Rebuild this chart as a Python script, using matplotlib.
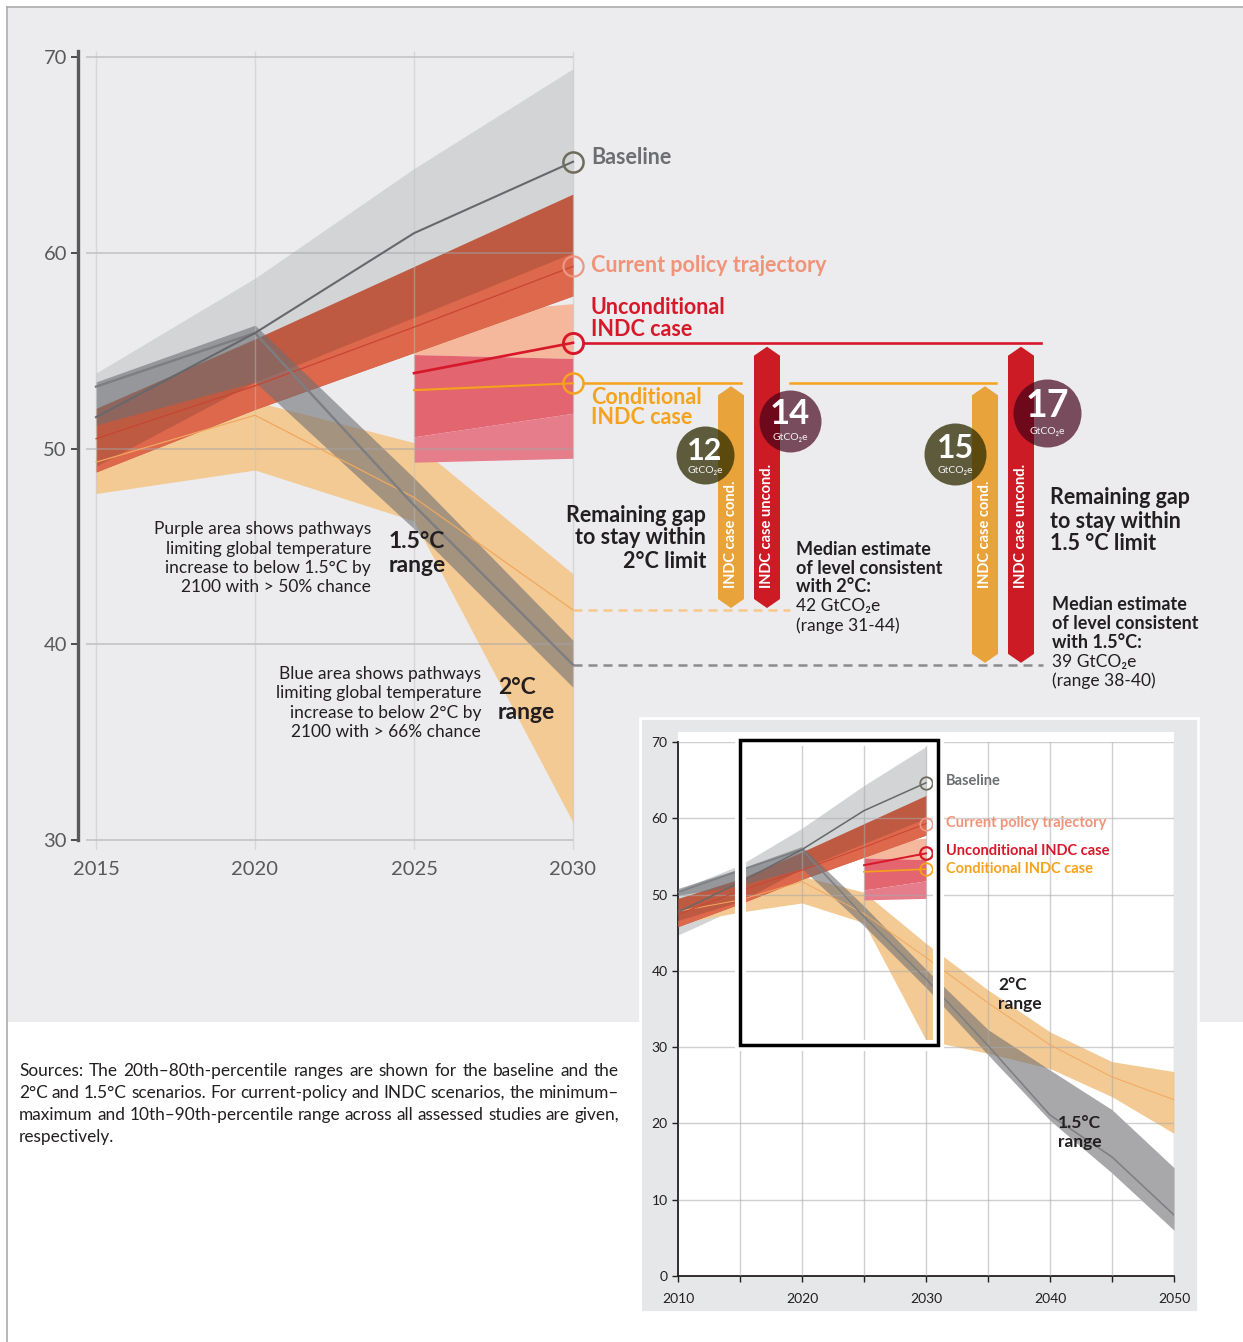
import matplotlib
matplotlib.use('Agg')
import matplotlib.pyplot as plt
from matplotlib.patches import Rectangle
from matplotlib.lines import Line2D

plt.rcParams['font.family'] = ['Lato', 'DejaVu Sans']

# ---------------- data (GtCO2e) ----------------
years = [2010, 2015, 2020, 2025, 2030]
base_lo = [44.7, 48.4, 52.0, 55.5, 58.0]
base_hi = [50.6, 53.85, 58.7, 64.3, 69.4]
base_med = [47.7, 51.6, 55.9, 61.0, 64.65]

cp_lo = [45.8, 48.8, 52.0, 54.9, 57.8]
cp_hi = [49.5, 52.05, 55.6, 59.3, 63.0]
cp_inner_lo = [45.8, 48.8, 52.0, 54.9, 57.8]
cp_inner_hi = [46.6, 49.1, 53.4, 56.7, 60.0]
cp_med = [47.4, 50.5, 53.2, 56.2, 59.3]

indc_years = [2025, 2030]
indc_top = [56.7, 57.4]
indc_mid_hi = [54.8, 54.6]
indc_mid_lo = [50.6, 51.8]
indc_bot = [49.3, 49.5]
uncond_med = [53.85, 55.4]
cond_med = [52.98, 53.33]

path_years = [2010, 2015, 2020, 2025, 2030, 2035, 2040, 2045, 2050]
two_hi = [49.3, 49.6, 52.4, 50.3, 43.6, 37.5, 32.0, 28.1, 26.8]
two_lo = [46.2, 47.7, 48.9, 46.3, 30.9, 29.2, 27.2, 23.5, 18.7]
two_med = [47.8, 49.3, 51.7, 47.5, 41.75, 35.8, 30.3, 26.1, 23.1]
one5_hi = [50.8, 53.4, 56.3, 48.5, 40.2, 32.3, 27.0, 21.8, 14.2]
one5_lo = [49.9, 51.2, 53.4, 45.9, 37.8, 29.0, 20.4, 13.5, 6.0]
one5_med = [50.3, 53.16, 55.9, 47.1, 38.95, 30.2, 21.1, 15.6, 8.0]

gap_labels = ['12', '14', '15', '17']

# ---------------- colours ----------------
C_BASE_BAND = '#D3D4D6'
C_BASE = '#67686B'
C_CP_OUT = '#BE5A41'
C_CP_IN = '#DE684C'
C_CP_LINE = '#C94433'
C_SALMON = '#F5B89C'
C_PINK = '#E26570'
C_PINK_L = '#E57E8A'
C_UNC = '#D7182A'
C_CON = '#F5A21C'
C_TWO = '#F3CA93'
C_TWO_LINE = '#F0A860'
C_ONE5 = '#6E6F73'
C_ONE5_LINE = '#7D7E82'
TXT = '#231F20'
TICK = '#58595B'

W, H = 1243, 1342
fig = plt.figure(figsize=(W / 100, H / 100), dpi=100)
fig.patch.set_facecolor('white')


def fx(px):
    return px / W


def fy(py):
    return 1 - py / H


# panel background and frame
fig.patches.append(Rectangle((fx(8), fy(1022)), (W - 8) / W, (1022 - 8) / H,
                             transform=fig.transFigure, fc='#ECECEE', ec='none', zorder=-2))
fig.add_artist(Line2D([fx(7), fx(7)], [fy(7), 0], color='#A9ABAE', lw=1.2, zorder=-1))
fig.add_artist(Line2D([fx(7), 1], [fy(7), fy(7)], color='#A9ABAE', lw=1.2, zorder=-1))

# ---------------- main chart ----------------
PX0, SX = 96, 31.8      # 2015 at px 96, px per year
PY0, SY = 57, 19.575    # 70 at py 57, px per unit


def dx(px):
    return 2015 + (px - PX0) / SX


def dy(py):
    return 70 - (py - PY0) / SY


ax = fig.add_axes([fx(78), fy(850), (W - 78) / W, 800 / H])
ax.patch.set_alpha(0)
ax.set_xlim(dx(78), dx(W))
ax.set_ylim(dy(850), dy(50))
for s in ['top', 'right', 'bottom']:
    ax.spines[s].set_visible(False)
ax.spines['left'].set_linewidth(2.4)
ax.spines['left'].set_color('#58595B')
ax.spines['left'].set_bounds(30, dy(51))
ax.set_yticks([30, 40, 50, 60, 70])
ax.set_xticks([2015, 2020, 2025, 2030])
ax.tick_params(axis='y', length=5, width=1.1, color=TXT, labelcolor=TICK, labelsize=14.5, pad=3)
ax.tick_params(axis='x', length=0, labelcolor=TICK, labelsize=14.5, pad=8)

y_m = years[1:]
p_m = path_years[1:5]
ax.fill_between(y_m, base_lo[1:], base_hi[1:], color=C_BASE_BAND, lw=0, zorder=1)
ax.fill_between(p_m, two_lo[1:5], two_hi[1:5], color=C_TWO, lw=0, zorder=2)
ax.fill_between(indc_years, indc_mid_hi, indc_top, color=C_SALMON, lw=0, zorder=2.5)
ax.fill_between(y_m, cp_lo[1:], cp_hi[1:], color=C_CP_OUT, lw=0, zorder=3)
ax.fill_between(y_m, cp_inner_lo[1:], cp_inner_hi[1:], color=C_CP_IN, lw=0, zorder=4)
ax.fill_between(indc_years, indc_mid_lo, indc_mid_hi, color=C_PINK, lw=0, zorder=5)
ax.fill_between(indc_years, indc_bot, indc_mid_lo, color=C_PINK_L, lw=0, zorder=5)
ax.fill_between(p_m, one5_lo[1:5], one5_hi[1:5], color=C_ONE5, alpha=0.6, lw=0, zorder=6)

# grid on top of the bands
ax.hlines([30, 40, 50, 60, 70], dx(86), 2030, color='#A3A4A7', alpha=0.6, lw=1.1, zorder=7)
ax.vlines([2015, 2020, 2025, 2030], dy(850), dy(51), color='#BEBFC2', alpha=0.45, lw=1.0, zorder=7)

ax.plot(p_m, two_med[1:5], color=C_TWO_LINE, lw=0.9, zorder=8)
ax.plot(y_m, cp_med[1:], color=C_CP_LINE, lw=0.9, zorder=8)
ax.plot(p_m, one5_med[1:5], color=C_ONE5_LINE, lw=1.7, zorder=8)
ax.plot(y_m, base_med[1:], color=C_BASE, lw=1.5, zorder=9)
ax.plot(indc_years, uncond_med, color=C_UNC, lw=1.9, zorder=9)
ax.plot(indc_years, cond_med, color=C_CON, lw=1.5, zorder=9)

# end-point circles
for val, col, mew in [(base_med[-1], '#6F6C5B', 1.8), (cp_med[-1], '#EC9783', 1.6),
                      (uncond_med[-1], C_UNC, 2.1), (cond_med[-1], C_CON, 1.8)]:
    ax.plot([2030], [val], 'o', mfc='none', mec=col, ms=14.5, mew=mew, zorder=10)

# level lines and dashed targets
ax.plot([dx(584), dx(1041)], [uncond_med[-1]] * 2, color=C_UNC, lw=1.9, zorder=9)
ax.plot([dx(584), dx(741)], [cond_med[-1]] * 2, color=C_CON, lw=1.8, zorder=9)
ax.plot([dx(790), dx(996)], [cond_med[-1]] * 2, color=C_CON, lw=1.8, zorder=9)
ax.plot([2030, dx(790)], [two_med[4]] * 2, color='#F7C88A', lw=1.8, dashes=(3.6, 2.4), zorder=9)
ax.plot([2030, dx(1043)], [one5_med[4]] * 2, color='#8C8C8E', lw=1.8, dashes=(3.6, 2.4), zorder=9)


def gap_bar(xc, top, bottom, color):
    hw = 13 / SX
    tip = 9 / SY
    xs = [xc - hw, xc, xc + hw, xc + hw, xc, xc - hw]
    ys = [top - tip, top, top - tip, bottom + tip, bottom, bottom + tip]
    ax.fill(xs, ys, color=color, lw=0, zorder=11)


bar_x = [dx(731), dx(767), dx(985), dx(1021)]
bar_cfg = [(cond_med[-1] - 0.15, two_med[4] + 0.1, '#E8A33B', 'INDC case cond.'),
           (uncond_med[-1] - 0.2, two_med[4] + 0.1, '#CC1B25', 'INDC case uncond.'),
           (cond_med[-1] - 0.15, one5_med[4] + 0.1, '#E8A33B', 'INDC case cond.'),
           (uncond_med[-1] - 0.2, one5_med[4] + 0.1, '#CC1B25', 'INDC case uncond.')]
for xc, (top, bot, col, lab) in zip(bar_x, bar_cfg):
    gap_bar(xc, top, bot, col)
    ax.text(xc, dy(588), lab, rotation=90, ha='center', va='bottom', color='white',
            fontsize=10.5, fontweight='bold', zorder=12)

# gap number circles
circ = [(705, 455, 29, '#2D2B00', 0.75, 22, 451, 470),
        (790, 421, 31, '#420017', 0.68, 25, 414, 437),
        (955, 454, 31, '#2D2B00', 0.75, 23, 449, 470),
        (1047, 413, 34, '#420017', 0.68, 27, 406, 431)]
for (cx, cy, r, col, a, fs, ty, gy), lab in zip(circ, gap_labels):
    ax.scatter([dx(cx)], [dy(cy)], s=(2 * r * 0.72) ** 2, color=col, alpha=a, lw=0, zorder=13)
    fig.text(fx(cx), fy(ty), lab, ha='center', va='center', color='white',
             fontsize=fs, fontweight='bold')
    fig.text(fx(cx), fy(gy), 'GtCO₂e', ha='center', va='center', color='#F2F2F2', fontsize=7.5)


def lines(x, ys, strs, **kw):
    for y, s in zip(ys, strs):
        fig.text(fx(x), fy(y), s, va='center', **kw)


lines(591, [158], ['Baseline'], color='#6D6E71', fontsize=15.5, fontweight='bold')
lines(591, [265], ['Current policy trajectory'], color='#F09379', fontsize=15.5, fontweight='bold')
lines(591, [308, 329], ['Unconditional', 'INDC case'], color=C_UNC, fontsize=15.5, fontweight='bold')
lines(591, [398, 418], ['Conditional', 'INDC case'], color=C_CON, fontsize=15.5, fontweight='bold')

lines(706, [515, 538, 561], ['Remaining gap', 'to stay within', '2°C limit'],
      ha='right', color=TXT, fontsize=15.5, fontweight='bold')
lines(1050, [498, 521, 544], ['Remaining gap', 'to stay within', '1.5 °C limit'],
      ha='left', color=TXT, fontsize=15.5, fontweight='bold')
lines(796, [549, 568, 587], ['Median estimate', 'of level consistent', 'with 2°C:'],
      ha='left', color=TXT, fontsize=13, fontweight='bold')
lines(796, [606, 626], ['42 GtCO₂e', '(range 31-44)'], ha='left', color=TXT, fontsize=12.5)
lines(1052, [605, 624, 643], ['Median estimate', 'of level consistent', 'with 1.5°C:'],
      ha='left', color=TXT, fontsize=13, fontweight='bold')
lines(1052, [662, 681], ['39 GtCO₂e', '(range 38-40)'], ha='left', color=TXT, fontsize=12.5)

lines(371, [529, 549, 568, 587], ['Purple area shows pathways', 'limiting global temperature',
                                  'increase to below 1.5°C by', '2100 with > 50% chance'],
      ha='right', color=TXT, fontsize=12.5)
lines(389, [542, 566], ['1.5°C', 'range'], ha='left', color=TXT, fontsize=16.5, fontweight='bold')
lines(481, [674, 693, 713, 732], ['Blue area shows pathways', 'limiting global temperature',
                                  'increase to below 2°C by', '2100 with > 66% chance'],
      ha='right', color=TXT, fontsize=12.5)
lines(498, [688, 713], ['2°C', 'range'], ha='left', color=TXT, fontsize=16.5, fontweight='bold')

# ---------------- inset panel ----------------
fig.patches.append(Rectangle((fx(640), fy(1312)), 558 / W, 594 / H, transform=fig.transFigure,
                             fc='#E6E7E8', ec='white', lw=2, zorder=1))
fig.patches.append(Rectangle((fx(678), fy(1276)), 496 / W, 544 / H, transform=fig.transFigure,
                             fc='white', ec='none', zorder=1))

ax2 = fig.add_axes([fx(678), fy(1276), 496 / W, 534 / H], zorder=2)
ax2.set_facecolor('white')
ax2.set_xlim(2010, 2050)
ax2.set_ylim(0, 70)
for s in ['top', 'right']:
    ax2.spines[s].set_visible(False)
for s in ['left', 'bottom']:
    ax2.spines[s].set_color(TXT)
    ax2.spines[s].set_linewidth(1.3)
ax2.set_yticks(range(0, 71, 10))
ax2.set_xticks(range(2010, 2051, 5))
ax2.set_xticklabels([str(y) if y % 10 == 0 else '' for y in range(2010, 2051, 5)])
ax2.tick_params(axis='y', length=4.5, width=1, color=TXT, labelcolor=TXT, labelsize=10, pad=3)
ax2.tick_params(axis='x', length=4.5, width=1, color=TXT, labelcolor=TXT, labelsize=10, pad=8)

ax2.fill_between(years, base_lo, base_hi, color=C_BASE_BAND, lw=0, zorder=1)
ax2.fill_between(path_years, two_lo, two_hi, color=C_TWO, lw=0, zorder=2)
ax2.fill_between(indc_years, indc_mid_hi, indc_top, color=C_SALMON, lw=0, zorder=2.5)
ax2.fill_between(years, cp_lo, cp_hi, color=C_CP_OUT, lw=0, zorder=3)
ax2.fill_between(years, cp_inner_lo, cp_inner_hi, color=C_CP_IN, lw=0, zorder=4)
ax2.fill_between(indc_years, indc_mid_lo, indc_mid_hi, color=C_PINK, lw=0, zorder=5)
ax2.fill_between(indc_years, indc_bot, indc_mid_lo, color=C_PINK_L, lw=0, zorder=5)
ax2.fill_between(path_years, one5_lo, one5_hi, color=C_ONE5, alpha=0.6, lw=0, zorder=6)

ax2.hlines(range(10, 71, 10), 2010, 2050, color='#A8A9AC', alpha=0.55, lw=1.0, zorder=7)
ax2.vlines(range(2015, 2051, 5), 0, 70, color='#A8A9AC', alpha=0.55, lw=1.0, zorder=7)

ax2.plot(path_years, two_med, color=C_TWO_LINE, lw=0.7, zorder=8)
ax2.plot(years, cp_med, color=C_CP_LINE, lw=0.7, zorder=8)
ax2.plot(path_years, one5_med, color=C_ONE5_LINE, lw=1.1, zorder=8)
ax2.plot(years, base_med, color=C_BASE, lw=1.1, zorder=9)
ax2.plot(indc_years, uncond_med, color=C_UNC, lw=1.4, zorder=9)
ax2.plot(indc_years, cond_med, color=C_CON, lw=1.2, zorder=9)
for val, col, mew in [(base_med[-1], '#6F6C5B', 1.3), (cp_med[-1], '#EC9783', 1.2),
                      (uncond_med[-1], C_UNC, 1.6), (cond_med[-1], C_CON, 1.3)]:
    ax2.plot([2030], [val], 'o', mfc='none', mec=col, ms=9, mew=mew, zorder=10)

# frame marking the zoomed part
box = dict(xy=(years[1], 30.3), width=years[-1] + 1 - years[1], height=39.9, fill=False,
           clip_on=False)
ax2.add_patch(Rectangle(ec='white', lw=8, zorder=20, **box))
ax2.add_patch(Rectangle(ec='black', lw=2.5, zorder=21, **box))

lines(946, [781], ['Baseline'], color='#6D6E71', fontsize=10.5, fontweight='bold')
lines(946, [823], ['Current policy trajectory'], color='#F09379', fontsize=10.5, fontweight='bold')
lines(946, [851], ['Unconditional INDC case'], color=C_UNC, fontsize=10.5, fontweight='bold')
lines(946, [869], ['Conditional INDC case'], color=C_CON, fontsize=10.5, fontweight='bold')
lines(998, [985, 1004], ['2°C', 'range'], ha='left', color=TXT, fontsize=12.5, fontweight='bold')
lines(1058, [1123, 1142], ['1.5°C', 'range'], ha='left', color=TXT, fontsize=12.5, fontweight='bold')

# ---------------- sources note (justified) ----------------
note = ['Sources: The 20th–80th-percentile ranges are shown for the baseline and the',
        '2°C and 1.5°C scenarios. For current-policy and INDC scenarios, the minimum–',
        'maximum and 10th–90th-percentile range across all assessed studies are given,',
        'respectively.']
NOTE_FS = 12.4
renderer = fig.canvas.get_renderer()
space_w = fig.text(0, 0, ' ', fontsize=NOTE_FS).get_window_extent(renderer).width
for i, line in enumerate(note):
    yc = 1071 + 22 * i
    words = line.split(' ')
    ts = [fig.text(0, fy(yc), w, fontsize=NOTE_FS, color=TXT, va='center', ha='left') for w in words]
    ws = [t.get_window_extent(renderer).width for t in ts]
    if i < len(note) - 1:
        gap = max((619 - 19 - sum(ws)) / (len(words) - 1), 2)
    else:
        gap = space_w
    x = 19
    for t, w in zip(ts, ws):
        t.set_x(fx(x))
        x += w + gap

fig.savefig('out.png', dpi=100)
